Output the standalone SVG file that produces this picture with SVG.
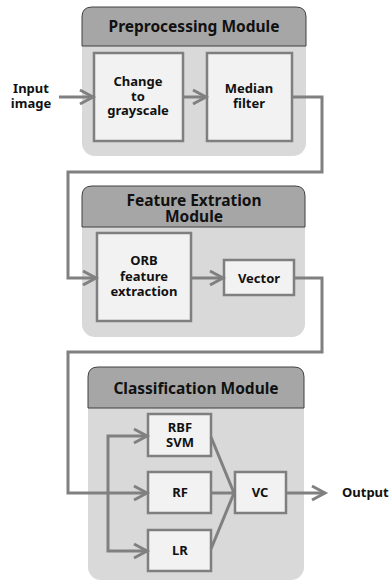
<svg xmlns="http://www.w3.org/2000/svg" width="392" height="582" viewBox="0 0 392 582">
<style>
.body{fill:#d9d9d9;}
.head{fill:#a6a6a6;stroke:#404040;stroke-width:1;}
.box{fill:#f2f2f2;stroke:#7f7f7f;stroke-width:2.5;}
.t{font-family:"Noto Sans","Open Sans",sans-serif;font-weight:bold;font-size:13px;fill:#111;text-anchor:middle;}
.h{font-family:"Noto Sans","Open Sans",sans-serif;font-weight:bold;font-size:15.5px;fill:#111;text-anchor:middle;}
.c{fill:none;stroke:#808080;stroke-width:3;stroke-linejoin:miter;}
</style>
<defs>
<marker id="ar" viewBox="0 0 16 16" refX="14" refY="8" markerWidth="16" markerHeight="16" markerUnits="userSpaceOnUse" orient="auto" overflow="visible">
<path d="M1,1 L14,8 L1,15" fill="none" stroke="#808080" stroke-width="3"/>
</marker>
</defs>
<rect width="392" height="582" fill="#ffffff"/>

<g id="preprocessing-module">
<rect class="body" x="82" y="7" width="224" height="149" rx="13"/>
<path class="head" d="M82,46 V17 Q82,7 92,7 H296 Q306,7 306,17 V46 Z"/>
<text class="h" x="194" y="32">Preprocessing Module</text>
</g>
<g id="feature-module">
<rect class="body" x="82" y="186" width="223" height="151" rx="13"/>
<path class="head" d="M82,227 V196 Q82,186 92,186 H295 Q305,186 305,196 V227 Z"/>
<text class="h" x="194" y="206">Feature Extration</text>
<text class="h" x="194" y="222">Module</text>
</g>
<g id="classification-module">
<rect class="body" x="88" y="367" width="216" height="213" rx="13"/>
<path class="head" d="M88,408 V377 Q88,367 98,367 H294 Q304,367 304,377 V408 Z"/>
<text class="h" x="196" y="394">Classification Module</text>
</g>

<g id="input">
<text class="t" x="31" y="93">Input</text>
<text class="t" x="31" y="108">image</text>
</g>
<g id="grayscale">
<rect class="box" x="94" y="53" width="89" height="88"/>
<text class="t" x="138" y="86">Change</text>
<text class="t" x="138" y="101">to</text>
<text class="t" x="138" y="115">grayscale</text>
</g>
<g id="median">
<rect class="box" x="207" y="53" width="85" height="88"/>
<text class="t" x="249" y="93">Median</text>
<text class="t" x="249" y="108">filter</text>
</g>
<g id="orb">
<rect class="box" x="97" y="233" width="94" height="88"/>
<text class="t" x="144" y="265">ORB</text>
<text class="t" x="144" y="281">feature</text>
<text class="t" x="144" y="296">extraction</text>
</g>
<g id="vector">
<rect class="box" x="224" y="260" width="70" height="35"/>
<text class="t" x="259" y="283">Vector</text>
</g>
<g id="rbfsvm">
<rect class="box" x="148" y="414" width="63" height="42"/>
<text class="t" x="180" y="432">RBF</text>
<text class="t" x="180" y="447">SVM</text>
</g>
<g id="rf">
<rect class="box" x="148" y="472" width="63" height="41"/>
<text class="t" x="180" y="497">RF</text>
</g>
<g id="lr">
<rect class="box" x="148" y="530" width="63" height="41"/>
<text class="t" x="180" y="555">LR</text>
</g>
<g id="vc">
<rect class="box" x="235" y="472" width="51" height="41"/>
<text class="t" x="260" y="497">VC</text>
</g>
<g id="output">
<text class="t" x="342" y="497" style="text-anchor:start">Output</text>
</g>

<g id="connectors">
<path class="c" d="M59,97 H93" marker-end="url(#ar)"/>
<path class="c" d="M183,97 H206" marker-end="url(#ar)"/>
<path class="c" d="M292,97 H322 V172 H68 V278 H96" marker-end="url(#ar)"/>
<path class="c" d="M191,278 H223" marker-end="url(#ar)"/>
<path class="c" d="M294,278 H322 V352 H68 V493 H147" marker-end="url(#ar)"/>
<path class="c" d="M108,493 V436 H147" marker-end="url(#ar)"/>
<path class="c" d="M108,493 V551 H147" marker-end="url(#ar)"/>
<path class="c" d="M211,437 L234,493"/>
<path class="c" d="M211,493 H235"/>
<path class="c" d="M211,549 L234,493"/>
<path class="c" d="M286,493 H325" marker-end="url(#ar)"/>
</g>
</svg>
